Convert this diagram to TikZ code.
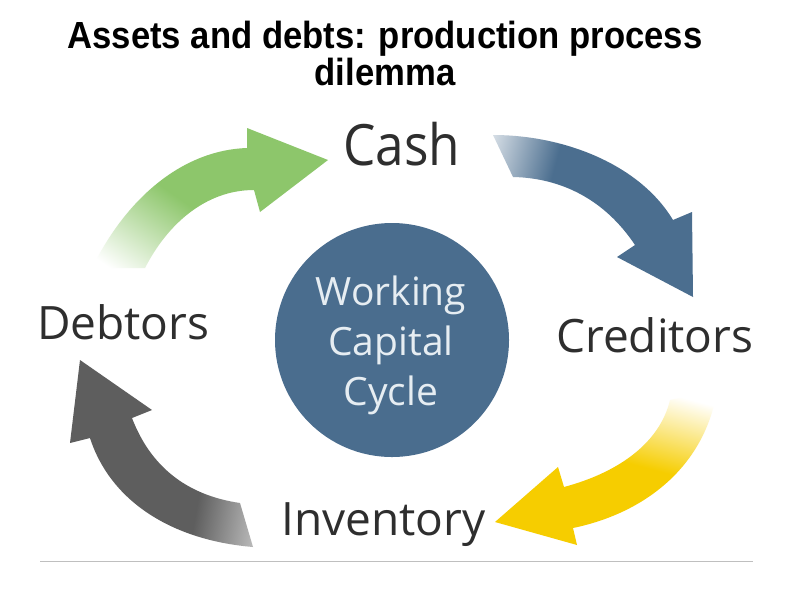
\documentclass[tikz,border=0pt]{standalone}
\usepackage{fontspec}
\setmainfont{Liberation Sans}
\newfontfamily\lblfont{Open Sans}
\definecolor{cgreen}{HTML}{8DC66B}
\definecolor{cblue}{HTML}{4B6E8F}
\definecolor{cyellow}{HTML}{F6CD00}
\definecolor{cgray}{HTML}{5E5E5E}
\definecolor{ctext}{HTML}{2E2E2E}
\definecolor{chub}{HTML}{4A6D8E}
\definecolor{chubtext}{HTML}{E6EDF2}
\pgfdeclarehorizontalshading{greenfade}{100bp}{color(0bp)=(white); color(18bp)=(white); color(45bp)=(cgreen); color(100bp)=(cgreen)}
\pgfdeclarehorizontalshading{bluefade}{100bp}{color(0bp)=(white); color(14bp)=(white); color(37bp)=(cblue); color(100bp)=(cblue)}
\pgfdeclarehorizontalshading{yellowfade}{100bp}{color(0bp)=(white); color(24bp)=(white); color(47bp)=(cyellow); color(100bp)=(cyellow)}
\pgfdeclarehorizontalshading{grayfade}{100bp}{color(0bp)=(white); color(8bp)=(white); color(38bp)=(cgray); color(100bp)=(cgray)}
\tikzset{
  titletext/.style={font=\bfseries\fontsize{35}{40}\selectfont, anchor=base, inner sep=0},
  lbl/.style={font=\lblfont\fontsize{46}{50}\selectfont, text=ctext, anchor=base west, inner sep=0},
  hubtext/.style={font=\lblfont\fontsize{39}{42}\selectfont, text=chubtext, anchor=base, inner sep=0},
}
\begin{document}
\begin{tikzpicture}[x=1pt,y=-1pt]
\useasboundingbox (0,0) rectangle (794,595);
\fill[white] (0,0) rectangle (794,595);
% title
\node[titletext] (title1) at (385,48) {\scalebox{0.99}[1.08]{Assets and debts: production process}};
\node[titletext] (title2) at (385,85) {\scalebox{0.99}[1.08]{dilemma}};
% hub
\node[circle, fill=chub, minimum size=234pt, inner sep=0] (hub) at (392,340) {};
\node[hubtext] (hw) at (391,305) {Working};
\node[hubtext] (hc) at (391,355) {Capital};
\node[hubtext] (hy) at (391,405) {Cycle};
% labels
\node[lbl, font=\lblfont\fontsize{57}{60}\selectfont] (cash) at (343,165) {\scalebox{0.9}[1]{Cash}};
\node[lbl] (debtors) at (37,339) {Debtors};
\node[lbl] (creditors) at (556,352) {Creditors};
\node[lbl] (inventory) at (281,535) {Inventory};
% green arrow (Debtors -> Cash)
\shade[shading=greenfade, shading angle=55]
  (92,268) .. controls (128,195) and (185,150) .. (247,148)
  -- (247,128) -- (328,160) -- (260,212) -- (254,190)
  .. controls (205,190) and (167,225) .. (145,268) -- cycle;
% blue arrow (Cash -> Creditors)
\shade[shading=bluefade, shading angle=-15]
  (493,135) .. controls (565,135) and (640,165) .. (673,220)
  -- (692,212) -- (693,297) -- (617,257) -- (635,245)
  .. controls (605,200) and (562,178) .. (513,177) -- cycle;
% yellow arrow (Creditors -> Inventory)
\shade[shading=yellowfade, shading angle=-105]
  (717,390) .. controls (706,462) and (650,512) .. (573,528)
  -- (577,545) -- (495,522) -- (558,467) -- (564,487)
  .. controls (620,472) and (660,442) .. (670,400) -- cycle;
% gray arrow (Inventory -> Debtors)
\shade[shading=grayfade, shading angle=170]
  (253,547) .. controls (170,540) and (110,500) .. (90,438)
  -- (70,443) -- (80,360) -- (152,410) -- (132,418)
  .. controls (150,465) and (185,495) .. (240,503) -- cycle;
% base line
\draw[black!25, line width=1pt] (40,561) -- (753,561);
\end{tikzpicture}
\end{document}
